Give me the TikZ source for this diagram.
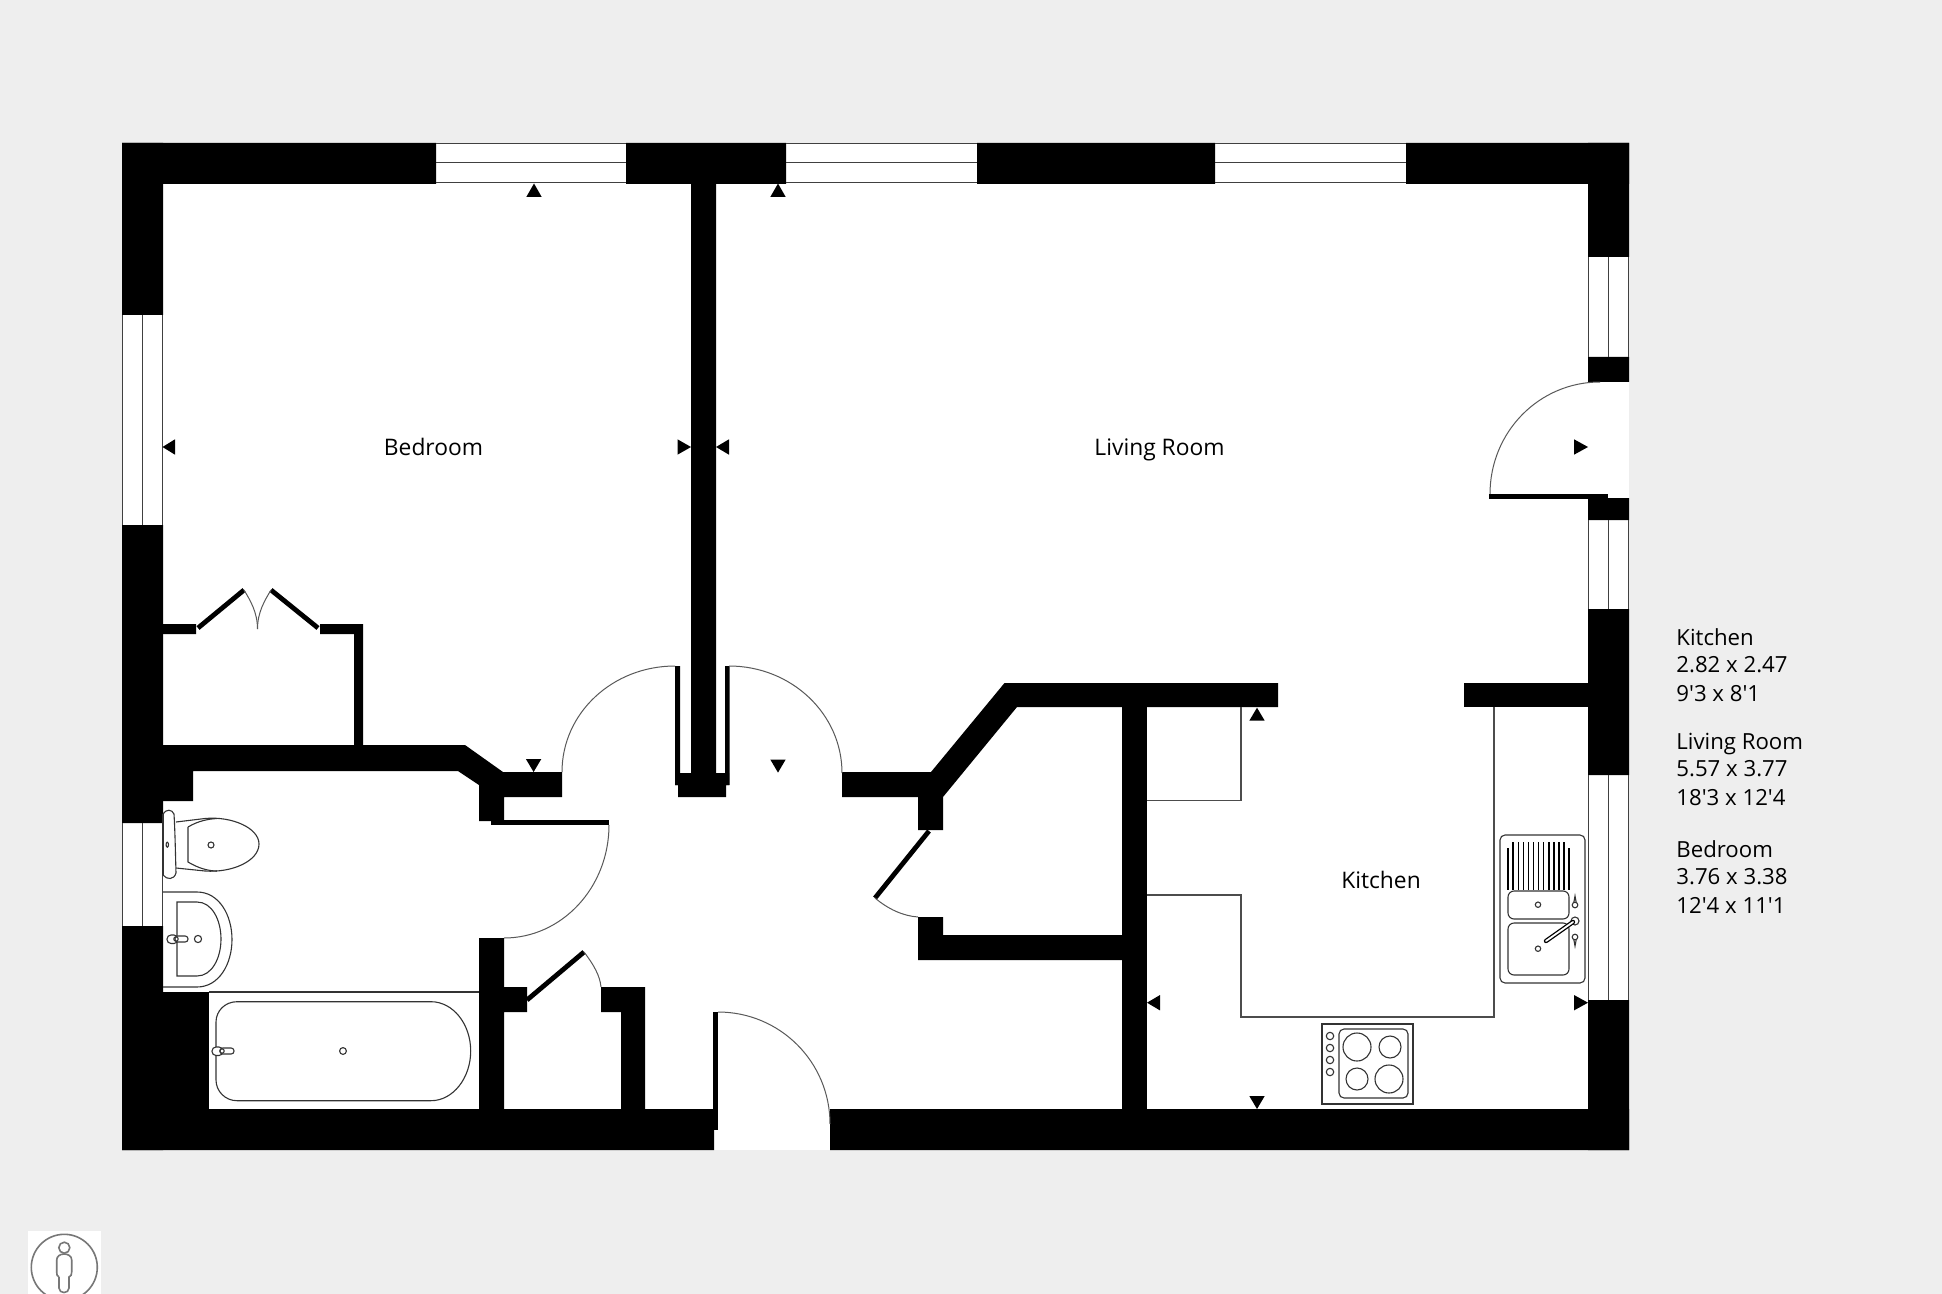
\documentclass[tikz,border=0pt]{standalone}
\usepackage{fontspec}
\newfontfamily\planfont{Open Sans}
\definecolor{bgc}{HTML}{EEEEEE}
\definecolor{fix}{HTML}{333333}
\definecolor{icon}{HTML}{777777}
\tikzset{
  wall/.style={fill=black,draw=none},
  winline/.style={draw=black!75,line width=0.5pt},
  thin/.style={draw=fix,line width=0.55pt},
  part/.style={draw=black!70,line width=0.7pt},
  swing/.style={draw=black!65,line width=0.5pt},
  leaf/.style={draw=black,line width=2.4pt},
  tri/.style={fill=black,draw=none},
  label/.style={inner sep=0pt,anchor=base,font=\planfont\fontsize{11.4pt}{13pt}\selectfont,text=black},
  side/.style={inner sep=0pt,anchor=base west,font=\planfont\fontsize{11.1pt}{13pt}\selectfont,text=black},
}
\begin{document}
\begin{tikzpicture}[x=0.5pt,y=-0.5pt]
\fill[bgc] (0,0) rectangle (1942,1294);
\useasboundingbox (0,0) rectangle (1942,1294);
\fill[white] (122,143) rectangle (1629,1150);
% outer walls
\fill[wall] (122,143) rectangle (436,184) (626,143) rectangle (786,184) (977,143) rectangle (1215,184) (1406,143) rectangle (1629,184);
\fill[wall] (122,143) rectangle (163,315) (122,525) rectangle (163,823) (122,926) rectangle (163,1150);
\fill[wall] (122,1109) rectangle (714,1150) (830,1109) rectangle (1629,1150);
\fill[wall] (1588,143) rectangle (1629,257) (1588,357) rectangle (1629,382) (1588,498) rectangle (1629,520) (1588,609) rectangle (1629,775) (1588,1000) rectangle (1629,1150);
\fill[wall] (163,992) rectangle (209,1109);
% windows
\draw[winline] (436,144) -- (626,144) (436,163) -- (626,163) (436,183) -- (626,183);
\draw[winline] (786,144) -- (977,144) (786,163) -- (977,163) (786,183) -- (977,183);
\draw[winline] (1215,144) -- (1406,144) (1215,163) -- (1406,163) (1215,183) -- (1406,183);
\draw[winline] (122.5,315) -- (122.5,525) (142,315) -- (142,525) (162.5,315) -- (162.5,525);
\draw[winline] (122.5,823) -- (122.5,926) (142,823) -- (142,926) (162.5,823) -- (162.5,926);
\draw[winline] (1588.5,257) -- (1588.5,357) (1608,257) -- (1608,357) (1628,257) -- (1628,357);
\draw[winline] (1588.5,520) -- (1588.5,609) (1608,520) -- (1608,609) (1628,520) -- (1628,609);
\draw[winline] (1588.5,775) -- (1588.5,1000) (1608,775) -- (1608,1000) (1628,775) -- (1628,1000);
% bedroom / bathroom wall
\fill[wall] (163,745) -- (465,745) -- (503,772) -- (562,772) -- (562,797) -- (504,797) -- (504,820) -- (491,820) -- (491,821) -- (479,821) -- (479,785) -- (458,771) -- (193,771) -- (193,801) -- (163,801) -- cycle;
% bedroom closet
\fill[wall] (163,624) rectangle (196,634) (320,624) rectangle (363,634) (354,624) rectangle (363,746);
% central wall
\fill[wall] (691,184) rectangle (716,797) (675,773) rectangle (729,785) (678,785) rectangle (726,797);
\fill[wall] (675,666) rectangle (680,785) (725,666) rectangle (729.5,785);
% hall / kitchen wall
\fill[wall] (842,772) -- (931,772) -- (1004.5,683) -- (1278,683) -- (1278,707) -- (1017,707) -- (943,797) -- (943,830) -- (918,830) -- (918,797) -- (842,797) -- cycle;
\fill[wall] (1464,683) rectangle (1588,707);
\fill[wall] (1122,707) rectangle (1147,1109);
\fill[wall] (918,917) -- (943,917) -- (943,935) -- (1122,935) -- (1122,960) -- (918,960) -- cycle;
% lobby cupboard
\fill[wall] (479,938) rectangle (504,1109) (504,987) rectangle (527,1012);
\fill[wall] (601,987) rectangle (645,1012) (621,987) rectangle (645,1109);
% door leaves
\fill[wall] (491,820) rectangle (609,825);
\fill[wall] (1489,494) rectangle (1608,499);
\fill[wall] (713,1012) rectangle (718,1130);
\draw[leaf] (527,1000) -- (584,952);
\draw[leaf] (929,831) -- (875,898);
\draw[leaf] (198,628) -- (244,590);
\draw[leaf] (318,628) -- (271,590);
% door swings
\draw[swing] (729,666) .. controls (791.4,666) and (842,713.9) .. (842,773);
\draw[swing] (675,666) .. controls (612.6,666) and (562,713) .. (562,772);
\draw[swing] (718,1012) .. controls (780,1012) and (830,1062) .. (830,1124);
\draw[swing] (609,825) .. controls (609,887.4) and (562,938) .. (504,938);
\draw[swing] (584,952) .. controls (594,965) and (600,976) .. (601,987);
\draw[swing] (1600,382) .. controls (1539,382) and (1490,432) .. (1490,494);
\draw[swing] (875,898) .. controls (888,909) and (903,916) .. (918,917);
\draw[swing] (244,590) .. controls (250,600) and (257.5,612) .. (257.5,629);
\draw[swing] (271,590) .. controls (265,600) and (257.5,612) .. (257.5,629);
% kitchen units
\draw[part] (1147,800.5) -- (1241,800.5) -- (1241,707);
\draw[part] (1147,895) -- (1241,895) -- (1241,1017) -- (1494,1017) -- (1494,707);
% view markers
\fill[tri] (534,183.5) -- (526.3,197) -- (541.7,197) -- cycle;
\fill[tri] (778,183.5) -- (770.3,197) -- (785.7,197) -- cycle;
\fill[tri] (162.5,447) -- (175,439.3) -- (175,454.7) -- cycle;
\fill[tri] (691,447) -- (677.5,439.3) -- (677.5,454.7) -- cycle;
\fill[tri] (716,447) -- (729,439.3) -- (729,454.7) -- cycle;
\fill[tri] (533.6,772) -- (525.9,759) -- (541.3,759) -- cycle;
\fill[tri] (778,772.6) -- (770.3,759.5) -- (785.7,759.5) -- cycle;
\fill[tri] (1588,447) -- (1574,439.3) -- (1574,454.7) -- cycle;
\fill[tri] (1257,707.7) -- (1249.3,720.7) -- (1264.7,720.7) -- cycle;
\fill[tri] (1147,1002.7) -- (1160,995) -- (1160,1010.4) -- cycle;
\fill[tri] (1588,1002.7) -- (1574,995) -- (1574,1010.4) -- cycle;
\fill[tri] (1257,1109) -- (1249.3,1096) -- (1264.7,1096) -- cycle;
% bathroom: toilet
\draw[thin] (163,814) .. controls (166,809) and (172,809) .. (174,814) .. controls (175,830) and (175.5,855) .. (176,873) .. controls (174,880) and (167,880) .. (163,875);
\draw[thin] (163,814) -- (163,875);
\draw[thin] (167.3,844.7) ellipse [x radius=1.2, y radius=2.5];
\draw[thin] (176,822) -- (205,818.5) .. controls (232,816) and (259,828) .. (259,844) .. controls (259,861) and (232,873) .. (205,871) -- (176,868);
\draw[thin] (188,827) .. controls (198,821) and (208,819) .. (217,818.5) (188,827) -- (188,862) .. controls (198,868) and (208,871) .. (217,871);
\draw[thin] (211,845) circle [radius=3];
% basin
\draw[thin] (163,892) -- (197,892) .. controls (219,892) and (232,915) .. (232,939.5) .. controls (232,964) and (219,987) .. (197,987) -- (163,987);
\draw[thin] (177,902) -- (197,902) .. controls (212,902) and (221,920) .. (221,939) .. controls (221,958) and (212,976) .. (197,976) -- (177,976) -- cycle;
\draw[thin] (198,939) circle [radius=3.6];
\draw[thin,rounded corners=2pt] (167,935) rectangle (178,943.5);
\draw[thin,rounded corners=1.4pt,fill=white] (175,936) rectangle (188,942);
\draw[thin] (176,939) circle [radius=2.2];
% bath
\draw[thin] (209,992) -- (479,992);
\draw[thin] (237,1001.7) -- (431,1001.7) .. controls (453,1001.7) and (470.7,1024) .. (470.7,1051) .. controls (470.7,1078) and (453,1100.7) .. (431,1100.7) -- (237,1100.7) .. controls (225,1100.7) and (216,1091) .. (216,1080) -- (216,1022) .. controls (216,1011) and (225,1001.7) .. (237,1001.7) -- cycle;
\draw[thin] (343,1051) circle [radius=3.4];
\draw[thin,rounded corners=2pt,fill=white] (212,1047) rectangle (223,1055.5);
\draw[thin,rounded corners=1.4pt,fill=white] (220,1048) rectangle (234,1054);
\draw[thin] (222,1051) circle [radius=2.2];
% sink
\draw[thin,rounded corners=2.5pt] (1500,835) rectangle (1585,983);
\foreach \i in {1,...,11} \draw[draw=black,line width=0.7pt] ({1508+\i*5.1},842) -- ({1508+\i*5.1},890);
\draw[draw=black,line width=0.7pt] (1508,848) -- (1508,890) (1569,848) -- (1569,890);
\draw[thin,rounded corners=3pt] (1508,891) rectangle (1569,919);
\draw[thin,rounded corners=3pt] (1508,923) rectangle (1569,975);
\draw[thin] (1538,904.7) circle [radius=2.7] (1538,948.7) circle [radius=2.7];
\draw[thin] (1575,921) circle [radius=4];
\draw[draw=black,line width=2.2pt,line cap=round] (1573,922) -- (1546,941);
\draw[draw=white,line width=0.9pt,line cap=round] (1573,922) -- (1546,941);
\draw[thin] (1575,905) circle [radius=2.8];
\draw[thin] (1575,937) circle [radius=2.8];
\draw[thin] (1573.8,902.5) -- (1575,896) -- (1576.2,902.5);
\draw[thin] (1573.8,939.5) -- (1575,946) -- (1576.2,939.5);
% hob
\draw[thin] (1322,1024) rectangle (1413,1104);
\draw[thin,rounded corners=2.5pt] (1339,1029) rectangle (1408,1098);
\draw[thin] (1357,1047) circle [radius=14] (1390,1047) circle [radius=11] (1357,1079) circle [radius=11] (1389,1079) circle [radius=14];
\draw[thin] (1330,1036) circle [radius=3.7] (1330,1048) circle [radius=3.7] (1330,1060) circle [radius=3.7] (1330,1072) circle [radius=3.7];
% labels
\node[label] (bedroom) at (433.5,455.5) {Bedroom};
\node[label] (living) at (1159.5,455.5) {Living Room};
\node[label] (kitchen) at (1381,888) {Kitchen};
\node[side] (s1) at (1676,645) {Kitchen};
\node[side] (s2) at (1676,672.5) {2.82 x 2.47};
\node[side] (s3) at (1676,701) {9'3 x 8'1};
\node[side] (s4) at (1676,749) {Living Room};
\node[side] (s5) at (1676,776.5) {5.57 x 3.77};
\node[side] (s6) at (1676,805) {18'3 x 12'4};
\node[side] (s7) at (1676,857) {Bedroom};
\node[side] (s8) at (1676,884) {3.76 x 3.38};
\node[side] (s9) at (1676,913) {12'4 x 11'1};
% orientation icon
\fill[white] (27.7,1231) rectangle (100.7,1294);
\begin{scope}
\clip (27.7,1231) rectangle (100.7,1294);
\draw[icon,line width=0.8pt] (64.3,1267.3) circle [radius=33];
\draw[icon,line width=0.8pt] (64.3,1247.7) circle [radius=5.5];
\draw[icon,line width=0.8pt] (59,1277) -- (59,1288) .. controls (59,1294) and (69,1294) .. (69,1288) -- (69,1277) .. controls (71,1276) and (71.7,1275) .. (71.7,1272) -- (71.7,1260) .. controls (71.7,1252) and (56.7,1252) .. (56.7,1260) -- (56.7,1272) .. controls (56.7,1275) and (57,1276) .. (59,1277);
\end{scope}
\end{tikzpicture}
\end{document}
